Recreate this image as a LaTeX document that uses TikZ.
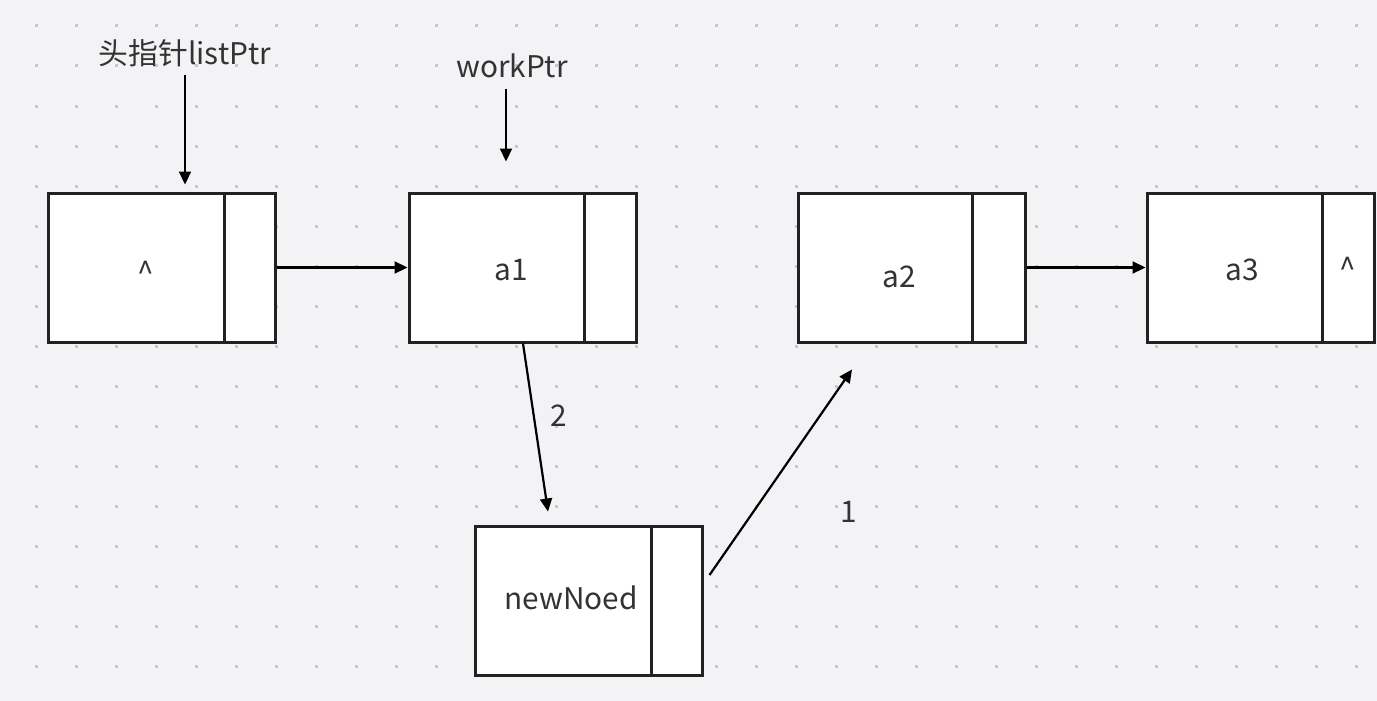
\documentclass[tikz,border=0pt]{standalone}
\usepackage{fontspec}
\setmainfont{Noto Sans CJK SC}
\usetikzlibrary{arrows.meta}
\definecolor{bg}{RGB}{243,243,246}
\definecolor{dotc}{RGB}{200,200,204}
\definecolor{ink}{RGB}{34,34,34}
\definecolor{txt}{RGB}{51,51,51}
\tikzset{
  cell/.style={draw=ink, fill=white, line width=3pt, minimum height=149pt, inner sep=0pt},
  lbl/.style={text=txt, font=\fontsize{29.8}{34}\selectfont, inner sep=0pt},
  arr/.style={draw=black, line width=2.2pt, -{Triangle[length=13pt,width=12pt]}}
}
\begin{document}
\begin{tikzpicture}[x=1pt,y=-1pt]
\fill[bg] (0,0) rectangle (1377,701);
\useasboundingbox (0,0) rectangle (1377,701);
\foreach \i in {0,...,33} {
  \foreach \j in {0,...,16} {
    \fill[dotc] ({36+40*\i-1.5},{26+40*\j-1.5}) rectangle ++(3,3);
  }
}
% boxes
\node[cell, minimum width=176pt] (b0d) at (136,267.5) {};
\node[cell, minimum width=51pt] (b0p) at (249.5,267.5) {};
\node[cell, minimum width=175pt] (a1d) at (496.5,267.5) {};
\node[cell, minimum width=52pt] (a1p) at (610,267.5) {};
\node[cell, minimum width=174pt] (a2d) at (885,267.5) {};
\node[cell, minimum width=53pt] (a2p) at (998.5,267.5) {};
\node[cell, minimum width=175pt] (a3d) at (1234.5,267.5) {};
\node[cell, minimum width=52pt] (a3p) at (1348,267.5) {};
\node[cell, minimum width=176pt] (nnd) at (563,600.5) {};
\node[cell, minimum width=51pt] (nnp) at (676.5,600.5) {};
% texts
\node[lbl] (t0) at (146,272) {\^{}};
\node[lbl] (t1) at (511,270) {a1};
\node[lbl] (t2) at (899,277) {a2};
\node[lbl] (t3) at (1242,270) {a3};
\node[lbl] (t3p) at (1348,268) {\^{}};
\node[lbl] (tn) at (571,598) {newNoed};
\node[lbl] (lp) at (185,53) {头指针listPtr};
\node[lbl] (wp) at (512,66) {workPtr};
\node[lbl] (n2) at (559,416) {2};
\node[lbl] (n1) at (849,512) {1};
% connectors
\draw[arr] (185,75) -- ([yshift=7pt]b0d.north -| lp.south);
\draw[arr] (506,89) -- ([xshift=9.5pt,yshift=30pt]a1d.north);
\draw[arr] (b0p.east) -- (a1d.west);
\draw[arr] (a2p.east) -- (a3d.west);
\draw[arr] ([xshift=26.5pt]a1d.south) -- ([xshift=-15pt,yshift=13pt]nnd.north);
\draw[arr] ([xshift=6pt,yshift=25.5pt]nnp.east) -- ([xshift=-33pt,yshift=-26pt]a2d.south);
\end{tikzpicture}
\end{document}
